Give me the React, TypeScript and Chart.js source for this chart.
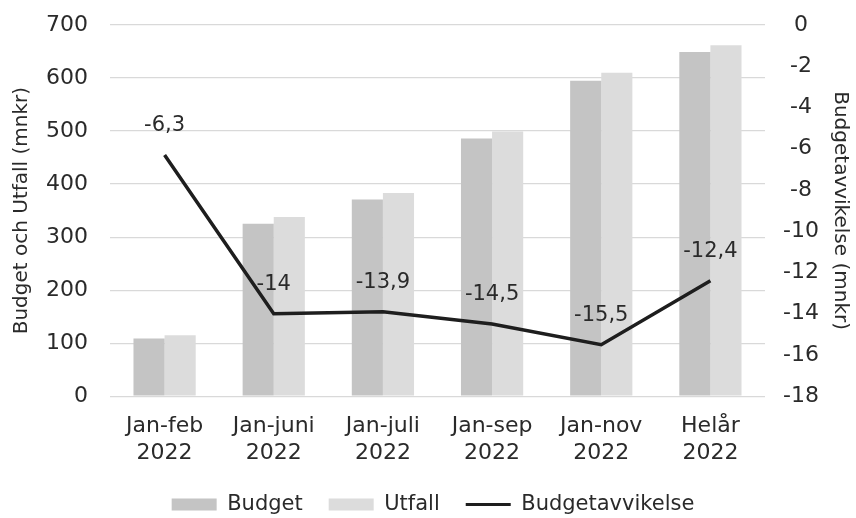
import React, { useEffect, useRef } from "react";
import { Chart, registerables } from "chart.js";

Chart.register(...registerables);

const categories: string[][] = [
  ["Jan-feb", "2022"],
  ["Jan-juni", "2022"],
  ["Jan-juli", "2022"],
  ["Jan-sep", "2022"],
  ["Jan-nov", "2022"],
  ["Helår", "2022"],
];
const budget: number[] = [109, 325, 371, 486, 595, 649];
const utfall: number[] = [115, 338, 383, 499, 610, 662];
const avvikelse: number[] = [-6.3, -14, -13.9, -14.5, -15.5, -12.4];

const FONT = "'DejaVu Sans', Verdana, sans-serif";
const TEXT = "#2a2a2a";
const CLEAR = "rgba(0,0,0,0)";

const labelPlugin = {
  id: "lineLabels",
  afterDatasetsDraw(chart: any) {
    const meta = chart.getDatasetMeta(2);
    const ctx = chart.ctx;
    ctx.save();
    ctx.font = `21px ${FONT}`;
    ctx.fillStyle = TEXT;
    ctx.textAlign = "center";
    ctx.textBaseline = "middle";
    meta.data.forEach((pt: any, i: number) => {
      const txt = String(avvikelse[i]).replace(".", ",");
      ctx.fillText(txt, pt.x, pt.y - 29);
    });
    ctx.restore();
  },
};

export default function App() {
  const ref = useRef<HTMLCanvasElement | null>(null);
  useEffect(() => {
    document.body.style.margin = "0";
    const canvas = ref.current!;
    const chart = new Chart(canvas, {
      type: "bar",
      data: {
        labels: categories,
        datasets: [
          {
            label: "Budget",
            data: budget,
            backgroundColor: "#c4c4c4",
            yAxisID: "y",
            order: 1,
            categoryPercentage: 0.57,
            barPercentage: 1,
          },
          {
            label: "Utfall",
            data: utfall,
            backgroundColor: "#dcdcdc",
            yAxisID: "y",
            order: 1,
            categoryPercentage: 0.57,
            barPercentage: 1,
          },
          {
            type: "line",
            label: "Budgetavvikelse",
            data: avvikelse,
            borderColor: "#1e1e1e",
            backgroundColor: "#1e1e1e",
            borderWidth: 3.5,
            pointRadius: 0,
            tension: 0,
            yAxisID: "y1",
            order: 0,
          } as any,
        ],
      },
      options: {
        responsive: false,
        animation: false,
        layout: { padding: { top: 25, left: 10, right: 0, bottom: 0 } },
        plugins: {
          tooltip: { enabled: false },
          legend: {
            position: "bottom",
            maxHeight: 50,
            labels: {
              usePointStyle: true,
              pointStyleWidth: 45,
              boxHeight: 12,
              padding: 26,
              color: TEXT,
              font: { family: FONT, size: 21 },
              generateLabels: (c: any) => {
                const items = (Chart.defaults.plugins.legend.labels as any).generateLabels(c);
                items.sort((a: any, b: any) => a.datasetIndex - b.datasetIndex);
                return items.map((it: any) =>
                  it.datasetIndex < 2
                    ? { ...it, pointStyle: "rect", lineWidth: 0, strokeStyle: CLEAR }
                    : { ...it, pointStyle: "line", lineWidth: 3, strokeStyle: "#1e1e1e" }
                );
              },
            },
          },
        },
        scales: {
          x: {
            grid: {
              display: true,
              drawOnChartArea: false,
              drawTicks: true,
              tickLength: 15,
              tickColor: CLEAR,
              color: CLEAR,
            },
            border: { display: false },
            ticks: { color: TEXT, font: { family: FONT, size: 22 }, padding: 2 },
          },
          y: {
            position: "left",
            min: 0,
            max: 700,
            afterFit: (s: any) => {
              s.width = 100;
            },
            ticks: { stepSize: 100, color: TEXT, font: { family: FONT, size: 22 }, padding: 2 },
            grid: { color: "#d9d9d9", drawTicks: true, tickLength: 20, tickColor: CLEAR, lineWidth: 1.2 },
            border: { display: false },
            title: {
              display: true,
              text: "Budget och Utfall (mnkr)",
              color: TEXT,
              font: { family: FONT, size: 20 },
              padding: { top: 0, bottom: 10 },
            },
          },
          y1: {
            position: "right",
            min: -18,
            max: 0,
            afterFit: (s: any) => {
              s.width = 91;
            },
            ticks: {
              stepSize: 2,
              color: TEXT,
              font: { family: FONT, size: 22 },
              padding: 2,
              crossAlign: "center",
            },
            grid: { display: true, drawOnChartArea: false, drawTicks: true, tickLength: 16, tickColor: CLEAR, color: CLEAR },
            border: { display: false },
            title: {
              display: true,
              text: "Budgetavvikelse (mnkr)",
              color: TEXT,
              font: { family: FONT, size: 20 },
              padding: { top: 4, bottom: 0 },
            },
          },
        },
      },
      plugins: [labelPlugin],
    });
    return () => chart.destroy();
  }, []);
  return <canvas ref={ref} width={856} height={518} style={{ display: "block" }} />;
}
